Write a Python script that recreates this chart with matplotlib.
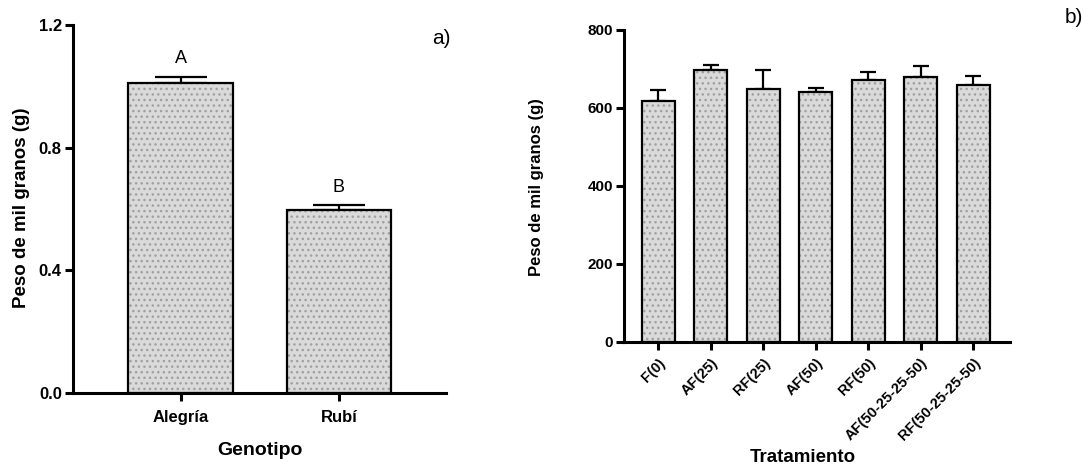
import matplotlib
matplotlib.use("Agg")
import matplotlib.pyplot as plt
import numpy as np

plt.rcParams["font.family"] = ["Liberation Sans", "DejaVu Sans"]
plt.rcParams["hatch.linewidth"] = 1.0

# ---- datos ----
genotipos = ["Alegría", "Rubí"]
peso_gen = [1.01, 0.598]
err_gen = [0.022, 0.014]
letras = ["A", "B"]

tratamientos = ["F(0)", "AF(25)", "RF(25)", "AF(50)", "RF(50)",
                "AF(50-25-25-50)", "RF(50-25-25-50)"]
peso_trat = [617, 696, 647, 640, 671, 678, 658]
err_trat = [29, 13, 51, 10, 20, 30, 24]

FACE = "#dadada"
DOT = "#a0a0a0"

W, H = 1089, 465
fig = plt.figure(figsize=(W / 100, H / 100), dpi=100)


def style_axis(ax):
    for s in ["top", "right"]:
        ax.spines[s].set_visible(False)
    for s in ["left", "bottom"]:
        ax.spines[s].set_linewidth(2.2)
    ax.tick_params(axis="both", width=2.2, length=6, direction="out")
    for lab in ax.get_xticklabels() + ax.get_yticklabels():
        lab.set_fontweight("bold")


def barras(ax, x, vals, errs, width, capsize):
    ax.bar(x, vals, width=width, color=FACE, edgecolor=DOT, hatch="...",
           linewidth=0, zorder=2)
    ax.bar(x, vals, width=width, fill=False, edgecolor="black",
           linewidth=1.6, zorder=3)
    ax.errorbar(x, vals, yerr=[np.zeros(len(vals)), errs], fmt="none",
                ecolor="black", elinewidth=1.6, capsize=capsize,
                capthick=1.6, zorder=1)


# ============ a) ============
ax1 = fig.add_axes([0.067, 0.155, 0.343, 0.791])
x1 = np.arange(len(genotipos))
barras(ax1, x1, peso_gen, err_gen, 0.66, 19)
ax1.set_xlim(-0.68, 1.68)
ax1.set_ylim(0, 1.2)
ax1.set_yticks([0.0, 0.4, 0.8, 1.2])
ax1.set_yticklabels(["0.0", "0.4", "0.8", "1.2"], fontsize=12)
ax1.set_xticks(x1)
ax1.set_xticklabels(genotipos, fontsize=12)
ax1.tick_params(axis="x", length=8, pad=6)
ax1.tick_params(axis="y", pad=2)
for xi, v, e, l in zip(x1, peso_gen, err_gen, letras):
    ax1.text(xi, v + e + 0.03, l, ha="center", va="bottom", fontsize=13)
style_axis(ax1)
fig.text(22 / W, 1 - 208 / H, "Peso de mil granos (g)", rotation=90,
         fontsize=13.5, fontweight="bold", ha="center", va="center")
fig.text(260 / W, 1 - 450 / H, "Genotipo", fontsize=14,
         fontweight="bold", ha="center", va="center")
fig.text(0.397, 0.918, "a)", fontsize=15, ha="left", va="center")

# ============ b) ============
ax2 = fig.add_axes([0.573, 0.265, 0.3545, 0.671])
x2 = np.arange(len(tratamientos))
barras(ax2, x2, peso_trat, err_trat, 0.63, 5.5)
ax2.set_xlim(-0.65, 6.7)
ax2.set_ylim(0, 800)
ax2.set_yticks([0, 200, 400, 600, 800])
ax2.set_yticklabels(["0", "200", "400", "600", "800"], fontsize=11)
ax2.set_xticks(x2)
ax2.set_xticklabels(tratamientos, fontsize=10.5, rotation=45, ha="right",
                    rotation_mode="anchor")
ax2.tick_params(axis="x", length=8, pad=4)
ax2.tick_params(axis="y", pad=2)
style_axis(ax2)
fig.text(537 / W, 1 - 187 / H, "Peso de mil granos (g)", rotation=90,
         fontsize=12, fontweight="bold", ha="center", va="center")
fig.text(803 / W, 1 - 457 / H, "Tratamiento", fontsize=13.5,
         fontweight="bold", ha="center", va="center")
fig.text(0.978, 0.962, "b)", fontsize=15, ha="left", va="center")

fig.savefig("out.png", dpi=100)
